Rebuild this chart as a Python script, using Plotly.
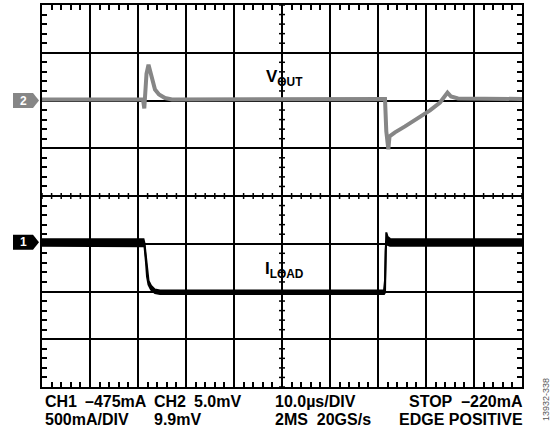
import plotly.graph_objects as go

# ---------------- data ----------------
# time in microseconds (10 us/div, 10 divisions)
t_vout = [0, 21.04, 21.31, 21.52, 21.77, 22.19, 22.60, 23.02, 23.54, 24.38, 25.63, 27.08,
          71.46, 71.73, 72.15, 72.40, 73.54, 75.63, 78.33, 80.83, 82.92, 84.48, 85.21, 86.67, 100]
# VOUT deviation from channel-2 reference, mV (5.0 mV/div)
vout_mv = [0.10, 0.10, -0.83, 1.56, 2.81, 3.75, 3.02, 1.98, 1.15, 0.63, 0.26, 0.10,
           0.16, -3.23, -5.10, -3.75, -3.33, -2.71, -1.88, -1.04, -0.21, 0.83, 0.42, 0.21, 0.16]

t_iload = [0, 21.15, 21.35, 21.67, 21.88, 22.19, 22.71, 23.54, 24.58,
           71.25, 71.46, 71.60, 71.73, 71.98, 72.50, 100]
# ILOAD envelope (peak detect) relative to channel-1 reference, mA (500 mA/div)
iload_max_ma = [31, 31, -10, -172, -318, -401, -453, -495, -505,
                -505, -401, 57, 104, 57, 36, 31]
iload_min_ma = [-36, -36, -40, -214, -359, -443, -495, -531, -542,
                -542, -526, -89, 16, -26, -36, -36]

CH1_SCALE_MA = 500.0   # mA/div
CH2_SCALE_MV = 5.0     # mV/div
CH1_POS = -0.97        # div
CH2_POS = 2.0          # div

readout_left = [("CH1", 43, 401.5), ("\u2013475mA", 83, 401.5), ("CH2", 152, 401.5),
                ("5.0mV", 192, 401.5), ("500mA/DIV", 43, 419.5), ("9.9mV", 152, 419.5),
                ("10.0\u00b5s/DIV", 273, 401.5), ("2MS\u00a0\u00a020GS/s", 273, 419.5)]
readout_right = [("STOP\u00a0\u00a0\u2013220mA", 525, 401.5), ("EDGE\u00a0POSITIVE", 525, 419.5)]

# ---------------- figure ----------------
W, H = 550, 435
L, R, T, B = 42, 28, 3, 48
PW, PH = W - L - R, H - T - B


def PX(px):
    return (px - L) / PW


def PY(py):
    return (H - B - py) / PH


FONT = "Liberation Sans, Arial, Helvetica, sans-serif"
GREY = "#868686"

fig = go.Figure()

# ILOAD envelope
y_up = [CH1_POS + v / CH1_SCALE_MA for v in iload_max_ma]
y_lo = [CH1_POS + v / CH1_SCALE_MA for v in iload_min_ma]
fig.add_trace(go.Scatter(x=t_iload, y=y_up, mode="lines",
                         line=dict(color="black", width=2), hoverinfo="skip"))
fig.add_trace(go.Scatter(x=t_iload, y=y_lo, mode="lines", fill="tonexty",
                         fillcolor="black", line=dict(color="black", width=2),
                         hoverinfo="skip"))

# VOUT
fig.add_trace(go.Scatter(x=t_vout, y=[CH2_POS + v / CH2_SCALE_MV for v in vout_mv],
                         mode="lines", line=dict(color=GREY, width=4),
                         hoverinfo="skip"))

shapes = []
# center-line ticks
for i in range(51):
    xv = i * 2.0
    shapes.append(dict(type="line", xref="x", yref="y", x0=xv, x1=xv,
                       ysizemode="pixel", yanchor=0, y0=-3, y1=3,
                       line=dict(color="black", width=1.5), layer="below"))
for i in range(41):
    yv = -4 + i * 0.2
    shapes.append(dict(type="line", xref="x", yref="y", y0=yv, y1=yv,
                       xsizemode="pixel", xanchor=50, x0=-3, x1=3,
                       line=dict(color="black", width=1.5), layer="below"))

# channel markers
for pos, col in [(CH2_POS, GREY), (CH1_POS, "black")]:
    shapes.append(dict(type="path", xref="paper", yref="paper",
                       xsizemode="pixel", ysizemode="pixel",
                       xanchor=0, yanchor=(pos + 4) / 8,
                       path="M -29,-7.5 L -9,-7.5 L -3,0 L -9,7.5 L -29,7.5 Z",
                       fillcolor=col, line=dict(width=0)))

annotations = []
for txt, pos in [("2", CH2_POS), ("1", CH1_POS)]:
    annotations.append(dict(text=txt, xref="paper", yref="paper", x=0, y=(pos + 4) / 8,
                            xshift=-19, showarrow=False, xanchor="center", yanchor="middle",
                            font=dict(family=FONT, size=12, color="white", weight="bold")))

annotations.append(dict(text="V<sub>OUT</sub>", xref="paper", yref="paper",
                        x=PX(284), y=PY(76), showarrow=False,
                        xanchor="center", yanchor="middle",
                        font=dict(family=FONT, size=17, color="black", weight="bold")))
annotations.append(dict(text="I<sub>LOAD</sub>", xref="paper", yref="paper",
                        x=PX(284), y=PY(269), showarrow=False,
                        xanchor="center", yanchor="middle",
                        font=dict(family=FONT, size=17, color="black", weight="bold")))

for txt, px, py in readout_left:
    annotations.append(dict(text=txt, xref="paper", yref="paper", x=PX(px), y=PY(py),
                            showarrow=False, xanchor="left", yanchor="middle",
                            font=dict(family=FONT, size=16, color="black", weight="bold")))
for txt, px, py in readout_right:
    annotations.append(dict(text=txt, xref="paper", yref="paper", x=PX(px), y=PY(py),
                            showarrow=False, xanchor="right", yanchor="middle",
                            font=dict(family=FONT, size=16, color="black", weight="bold")))

annotations.append(dict(text="13932-338", xref="paper", yref="paper", x=PX(546), y=PY(400),
                        showarrow=False, textangle=-90, xanchor="center", yanchor="middle",
                        font=dict(family=FONT, size=9, color="#555555")))

axis_common = dict(showgrid=True, gridcolor="black", gridwidth=1.5,
                   showline=True, linecolor="black", linewidth=2, mirror="allticks",
                   ticks="", showticklabels=False, zeroline=False, fixedrange=True)

fig.update_layout(
    width=W, height=H, margin=dict(l=L, r=R, t=T, b=B, pad=0),
    paper_bgcolor="white", plot_bgcolor="white", showlegend=False,
    xaxis=dict(range=[0, 100], dtick=10, tick0=0,
               minor=dict(dtick=2, ticks="inside", ticklen=5, tickwidth=1.5,
                          tickcolor="black", showgrid=False),
               **axis_common),
    yaxis=dict(range=[-4, 4], dtick=1, tick0=0,
               minor=dict(dtick=0.2, ticks="inside", ticklen=5, tickwidth=1.5,
                          tickcolor="black", showgrid=False),
               **axis_common),
    shapes=shapes, annotations=annotations,
)

fig.write_html("out.html", config={"displayModeBar": False},
               post_script="document.body.style.margin='0';document.body.style.overflow='hidden';")
